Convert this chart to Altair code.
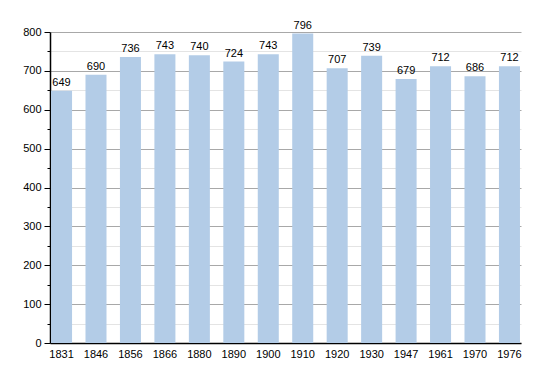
import altair as alt
import pandas as pd

years = ["1831", "1846", "1856", "1866", "1880", "1890", "1900", "1910", "1920", "1930", "1947", "1961", "1970", "1976"]
population = [649, 690, 736, 743, 740, 724, 743, 796, 707, 739, 679, 712, 686, 712]
y_ticks = list(range(0, 801, 50))

df = pd.DataFrame({"year": years, "pop": population})
FONT = "Liberation Sans"

base = alt.Chart(df).encode(
    x=alt.X("year:N", sort=None,
            scale=alt.Scale(paddingInner=0.39, paddingOuter=0.03),
            axis=alt.Axis(title=None, labelAngle=0, ticks=False, domainColor="black",
                          labelColor="black", labelFontSize=11, labelPadding=5, labelFont=FONT)),
    y=alt.Y("pop:Q", scale=alt.Scale(domain=[0, 800], nice=False),
            axis=alt.Axis(title=None, values=y_ticks, labelOverlap=False,
                          labelExpr="datum.value % 100 === 0 ? datum.label : ''",
                          gridColor={"condition": {"test": "datum.value % 100 === 0", "value": "#a8a8a8"}, "value": "#e4e4e4"},
                          tickSize={"condition": {"test": "datum.value % 100 === 0", "value": 6}, "value": 3},
                          tickColor="black", domainColor="black", labelColor="black",
                          labelFontSize=11, labelPadding=3, labelFont=FONT)),
)

bars = base.mark_bar(color="#b3cce7")
labels = base.mark_text(baseline="bottom", dy=-3, fontSize=11, font=FONT, color="black").encode(text="pop:Q")

chart = (bars + labels).properties(
    width=471, height=311,
    autosize=alt.AutoSizeParams(type="none"),
    padding={"left": 42, "top": 24, "right": 20, "bottom": 22},
).configure_view(stroke=None).configure_axis(domainWidth=1.5)

chart.save("out.html", embed_options={"renderer": "svg", "actions": False})
